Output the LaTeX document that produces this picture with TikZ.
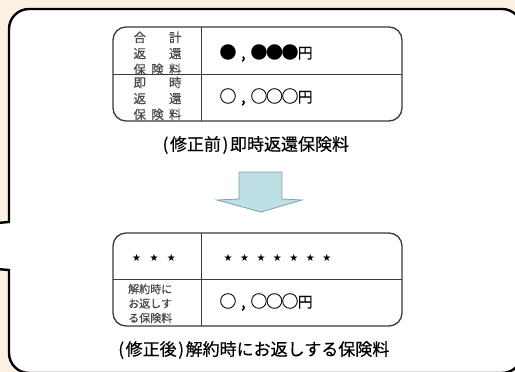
\documentclass[tikz,border=0pt]{standalone}
\usepackage{fontspec}
\newfontfamily\jp[FakeBold=0.5]{Noto Sans CJK JP}
\newfontfamily\jpc[FakeBold=0.4]{Noto Sans CJK JP}
\newfontfamily\symf{DejaVu Sans}
\definecolor{bgcream}{HTML}{FCF0E3}
\definecolor{tabline}{HTML}{3A3A3A}
\definecolor{graytxt}{HTML}{4A4A4A}
\definecolor{arrowfill}{HTML}{BEDFE4}
\definecolor{arrowedge}{HTML}{7FA3A8}
\newcommand{\sx}[2]{\makebox[#1][s]{#2}}
\newcommand{\st}{\makebox[16.5pt]{★}}
\newcommand{\stl}{\makebox[17.5pt]{★}}
\newcommand{\cb}[1]{\makebox[15.5pt]{\fontsize{17}{18}\selectfont #1}}
\newcommand{\en}{\makebox[15pt]{\fontsize{15}{18}\selectfont 円}}
\newcommand{\pl}{\makebox[9pt]{(}}
\newcommand{\pr}{\makebox[9pt]{)}}
\tikzset{
  frame/.style={draw=black, line width=2.4pt, fill=white, line join=miter},
  tabbox/.style={draw=tabline, line width=1.3pt, rounded corners=13pt},
  tabrule/.style={draw=tabline, line width=1pt},
  lefttxt/.style={inner sep=0pt, text=graytxt, font=\jp\fontsize{12.5}{16}\selectfont, align=center},
  lefttxtb/.style={inner sep=0pt, text=graytxt, font=\jp\fontsize{11}{14.5}\selectfont, align=left},
  valtxt/.style={inner sep=0pt, anchor=west, font=\jpc\fontsize{16}{18}\selectfont},
  startxt/.style={inner sep=0pt, font=\symf\fontsize{10}{10}\selectfont},
  captxt/.style={inner sep=0pt, font=\jpc\fontsize{17}{20}\selectfont},
  bigarrow/.style={draw=arrowedge, line width=0.8pt, fill=arrowfill, line join=miter}
}
\begin{document}
\begin{tikzpicture}[x=1pt,y=-1pt]
\useasboundingbox (0,0) rectangle (515,372);
\clip (0,0) rectangle (515,372);
\fill[bgcream] (0,0) rectangle (515,372);
% callout frame
\draw[frame] (-40,226) -- (9,222) -- (9,29) arc[start angle=180,end angle=270,radius=20]
  -- (502,9) arc[start angle=270,end angle=360,radius=20]
  -- (522,353) arc[start angle=0,end angle=90,radius=20]
  -- (29,373) arc[start angle=90,end angle=180,radius=20]
  -- (9,270) -- (-40,266);
% top table
\draw[tabbox] (113,27) rectangle (402,121);
\draw[tabrule] (201,27) -- (201,121);
\draw[tabrule] (113,74) -- (402,74);
\node[lefttxt] (t1a) at (157.5,53.5) {\sx{48pt}{合\hfill 計}\\\sx{48pt}{返\hfill 還}\\\sx{48pt}{保\hfill 険\hfill 料}};
\node[lefttxt] (t1b) at (157.5,98.5) {\sx{48pt}{即\hfill 時}\\\sx{48pt}{返\hfill 還}\\\sx{48pt}{保\hfill 険\hfill 料}};
\node[valtxt] (v1a) at (220,53) {\cb{●}\cb{,}\cb{●}\cb{●}\cb{●}\en};
\node[valtxt] (v1b) at (220,97) {\cb{○}\cb{,}\cb{○}\cb{○}\cb{○}\en};
\node[captxt] (cap1) at (255,145) {\pl 修正前\pr 即時返還保険料};
% arrow
\draw[bigarrow] (239,172) -- (282,172) -- (282,199) -- (302,200) -- (261,212) -- (217,200) -- (239,199) -- cycle;
% bottom table
\draw[tabbox] (113,233) rectangle (402,326);
\draw[tabrule] (201,233) -- (201,326);
\draw[tabrule] (113,279) -- (402,279);
\node[startxt] (s1) at (154,257.5) {\stl\stl\stl};
\node[startxt] (s2) at (277.5,257.5) {\st\st\st\st\st\st\st};
\node[lefttxtb, anchor=west] (t2b) at (128,303.5) {解約時に\\お返しす\\る保険料};
\node[valtxt] (v2b) at (220,302) {\cb{○}\cb{,}\cb{○}\cb{○}\cb{○}\en};
\node[captxt] (cap2) at (253,350) {\pl 修正後\pr 解約時にお返しする保険料};
\end{tikzpicture}
\end{document}
